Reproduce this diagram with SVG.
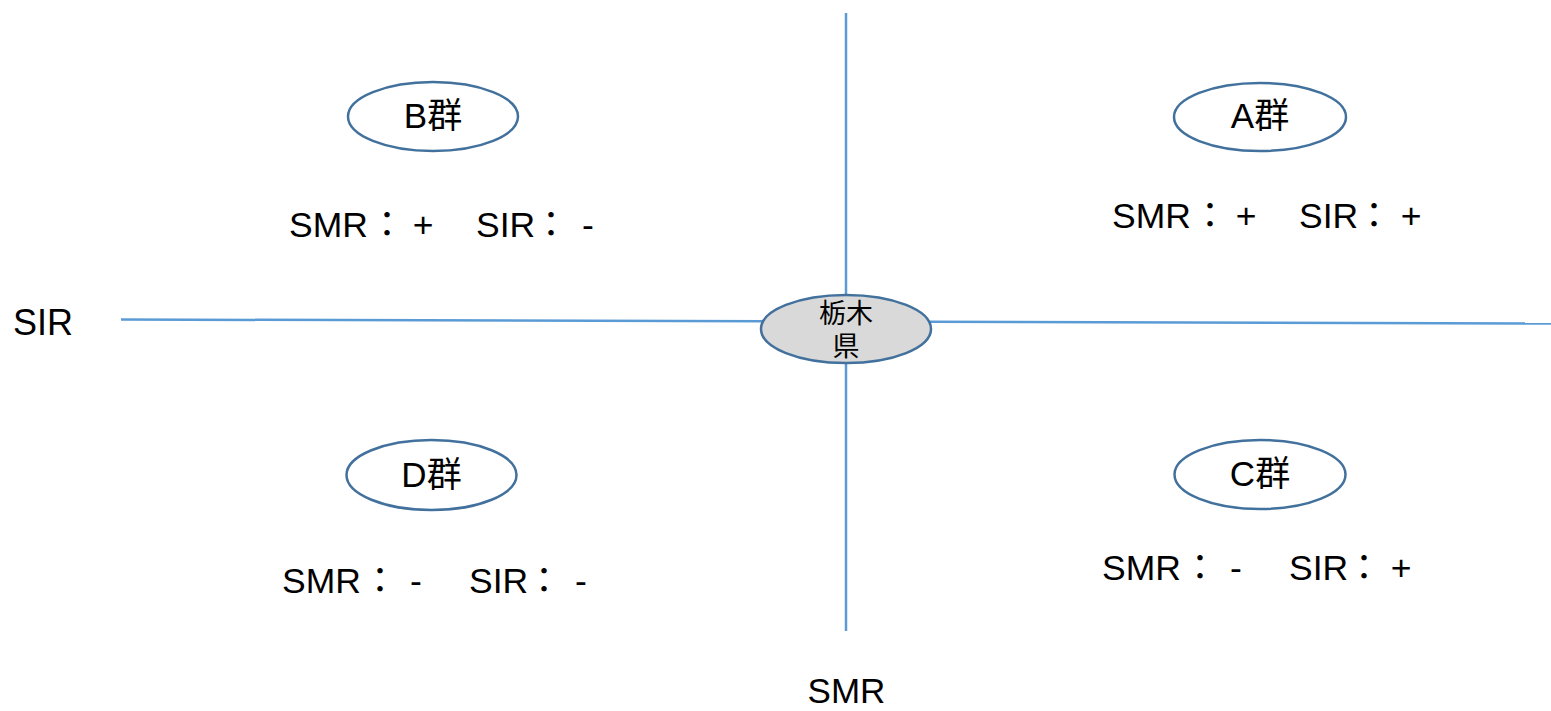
<svg xmlns="http://www.w3.org/2000/svg" width="1551" height="711" viewBox="0 0 1551 711">
<style>
text{font-family:"Liberation Sans","Noto Sans CJK JP",sans-serif;fill:#000;}
.axis{stroke:#5B9BD5;stroke-width:2.5;fill:none;}
.grp{fill:#fff;stroke:#41719C;stroke-width:2.5;}
.ctr{fill:#D9D9D9;stroke:#41719C;stroke-width:2.5;}
.lbl{font-size:35px;text-anchor:middle;}
.val{font-size:35.5px;}
.m{text-anchor:middle;}
.ax{font-size:36px;}
.c{font-size:27px;text-anchor:middle;}
</style>
<rect width="1551" height="711" fill="#fff"/>
<g id="connectors">
<line class="axis" x1="121" y1="319.5" x2="1551" y2="323.5"/>
<line class="axis" x1="846" y1="13" x2="846" y2="631"/>
</g>
<g id="tochigi">
<ellipse class="ctr" cx="846" cy="329" rx="85" ry="34"/>
<text class="c" x="846" y="323">栃木</text>
<text class="c" x="846" y="356">県</text>
</g>
<g id="groupB">
<ellipse class="grp" cx="433" cy="116.5" rx="85" ry="34.5"/>
<text class="lbl" x="433" y="128">B群</text>
</g>
<g id="groupA">
<ellipse class="grp" cx="1260" cy="117" rx="86" ry="34"/>
<text class="lbl" x="1260" y="128">A群</text>
</g>
<g id="groupD">
<ellipse class="grp" cx="431.5" cy="475" rx="85" ry="35"/>
<text class="lbl" x="431.5" y="487">D群</text>
</g>
<g id="groupC">
<ellipse class="grp" cx="1260" cy="474.5" rx="85.5" ry="34.5"/>
<text class="lbl" x="1260" y="486">C群</text>
</g>
<g id="valueB" transform="translate(289,237)">
<text class="val"><tspan x="0">SMR</tspan><tspan class="m" x="98">：</tspan><tspan class="m" x="134">+</tspan><tspan x="187">SIR</tspan><tspan class="m" x="262">：</tspan><tspan class="m" x="299">-</tspan></text>
</g>
<g id="valueA" transform="translate(1112,228)">
<text class="val"><tspan x="0">SMR</tspan><tspan class="m" x="98">：</tspan><tspan class="m" x="134">+</tspan><tspan x="187">SIR</tspan><tspan class="m" x="262">：</tspan><tspan class="m" x="299">+</tspan></text>
</g>
<g id="valueD" transform="translate(282,593)">
<text class="val"><tspan x="0">SMR</tspan><tspan class="m" x="98">：</tspan><tspan class="m" x="134">-</tspan><tspan x="187">SIR</tspan><tspan class="m" x="262">：</tspan><tspan class="m" x="299">-</tspan></text>
</g>
<g id="valueC" transform="translate(1102,580)">
<text class="val"><tspan x="0">SMR</tspan><tspan class="m" x="98">：</tspan><tspan class="m" x="134">-</tspan><tspan x="187">SIR</tspan><tspan class="m" x="262">：</tspan><tspan class="m" x="299">+</tspan></text>
</g>
<g id="axisLabels">
<text class="ax" x="13" y="335">SIR</text>
<text class="ax" x="846.5" y="703" text-anchor="middle" style="font-size:35px">SMR</text>
</g>
</svg>
